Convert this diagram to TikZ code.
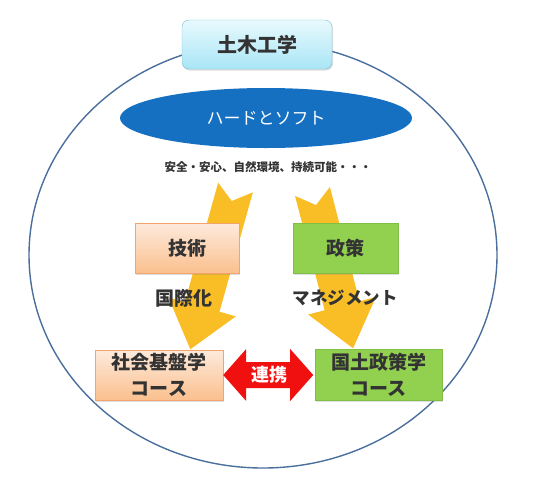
\documentclass[tikz,border=0pt]{standalone}
\usepackage{fontspec}
\newfontfamily\jp{Noto Sans CJK JP}
\usetikzlibrary{shapes.geometric,shadows}

\definecolor{ringblue}{HTML}{4A6F9C}
\definecolor{hsblue}{HTML}{1570C2}
\definecolor{capline}{HTML}{78BCD4}
\definecolor{captop}{HTML}{E8F9FD}
\definecolor{capbot}{HTML}{A9E6F6}
\definecolor{peachline}{HTML}{F2A46C}
\definecolor{peachtop}{HTML}{FDEADC}
\definecolor{peachbot}{HTML}{FBC08E}
\definecolor{polgreen}{HTML}{92D050}
\definecolor{greenline}{HTML}{80BE45}
\definecolor{flowyellow}{HTML}{F9BE26}
\definecolor{linkred}{HTML}{F01010}
\definecolor{textgray}{HTML}{333333}

\tikzset{
  box/.style={draw, rectangle, inner sep=0pt, align=center, text=textgray,
    font=\jp\bfseries\fontsize{19}{26}\selectfont,
    drop shadow={opacity=0.25, shadow xshift=1pt, shadow yshift=-1.5pt}},
  techbox/.style={box, draw=peachline, top color=peachtop, bottom color=peachbot},
  polbox/.style={box, draw=greenline, fill=polgreen},
  tag/.style={inner sep=0pt, text=textgray, font=\jp\bfseries\fontsize{19}{22}\selectfont},
  pics/notched/.style={code={
    \fill[flowyellow] (-18,0) -- (0,14) -- (18,0) -- (18,#1-44) -- (35,#1-44)
      -- (0,#1) -- (-35,#1-44) -- (-18,#1-44) -- cycle;
  }}
}

\begin{document}
\begin{tikzpicture}[x=1pt,y=-1pt]
\useasboundingbox (0,0) rectangle (545,485);

% Outer ring
\draw[ringblue, line width=1.4pt] (263,255) ellipse [x radius=234, y radius=213];

% Title
\node[box, draw=capline, top color=captop, bottom color=capbot, rounded corners=7pt,
  minimum width=150, minimum height=49, font=\jp\bfseries\fontsize{20}{24}\selectfont]
  (civil) at (257,44.5) {土木工学};

% Hard and soft
\node[ellipse, fill=hsblue, inner sep=0pt, minimum width=292, minimum height=60,
  text=white, font=\jp\fontsize{17}{20}\selectfont] (hardsoft) at (266,118) {ハードとソフト};
\node[tag, font=\jp\bfseries\fontsize{11.5}{13}\selectfont] (values) at (268,167)
  {安全・安心、自然環境、持続可能・・・};

% Flow arrows
\pic[rotate=-15.6] at (235.5,187.5) {notched=168};
\pic[rotate=14.5] at (312.5,191.5) {notched=162};

% Upper boxes
\node[techbox, minimum width=104, minimum height=50] (tech) at (187,248) {技術};
\node[polbox, minimum width=105, minimum height=50] (policy) at (345.5,248) {政策};

\node[tag] (intl) at (184,298) {国際化};
\node[tag, font=\jp\bfseries\fontsize{17.5}{20}\selectfont] (mgmt) at (345,298) {マネジメント};

% Courses
\node[techbox, minimum width=128, minimum height=50] (infra) at (159,375) {社会基盤学\\コース};
\node[polbox, minimum width=127, minimum height=51] (land) at (378.5,374.5) {国土政策学\\コース};

% Link
\fill[linkred] (infra.east) -- ++(23,-26) -- ++(0,13) -- ++(44,0) -- ++(0,-13)
  -- ++(23,26) -- ++(-23,26) -- ++(0,-13) -- ++(-44,0) -- ++(0,13) -- cycle;
\path (infra.east) -- (land.west) node[midway, inner sep=0pt, text=white,
  font=\jp\bfseries\fontsize{18}{20}\selectfont] (link) {連携};

\end{tikzpicture}
\end{document}
